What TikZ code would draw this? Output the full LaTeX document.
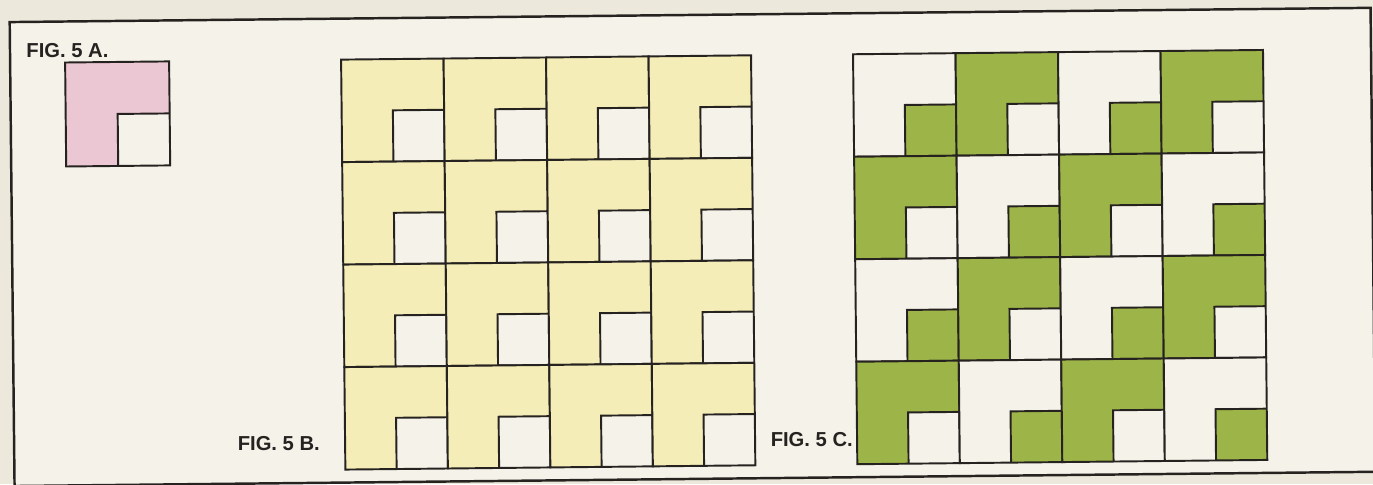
\documentclass[tikz,border=0pt]{standalone}
\usepackage{fontspec}
\setmainfont{Liberation Sans}
\usepackage{tikz}
\usetikzlibrary{positioning}
\definecolor{ink}{RGB}{38,34,32}
\definecolor{margin}{RGB}{236,233,220}
\definecolor{paper}{RGB}{244,242,233}
\definecolor{tileP}{RGB}{235,198,211}
\definecolor{tileY}{RGB}{244,237,184}
\definecolor{tileG}{RGB}{157,181,72}

\begin{document}
\begin{tikzpicture}[
		x=0.02cm, y=-0.02cm,
		line/.style={draw=ink, line width=1.1pt, line join=miter},
		frame/.style={draw=ink, line width=1.4pt},
		lbl/.style={font=\fontsize{11.5}{13}\selectfont\bfseries, text=ink, inner sep=0pt}
	]
		\useasboundingbox (0,0) rectangle (1373,484);
		\fill[margin] (0,0) rectangle (1373,484);
		\begin{scope}[rotate around={0.6:(686,242)}]
		\filldraw[frame, fill=paper] (12,15) rectangle (1373,479);
		% fig. 5 a: the single tile
		\fill[tileP] (67,56) rectangle ++(104,104);
		\fill[paper] (119,108) rectangle ++(52,52);
		\draw[line] (67,56) rectangle ++(104,104);
		\draw[line] (119,160) |- (171,108);
		\node[lbl, anchor=base west] (labA) at (28,51) {FIG. 5 A.};
		% fig. 5 b: all tiles the same
		\foreach \r in {0,...,3}{
			\foreach \c in {0,...,3}{
				\pgfmathsetmacro{\xa}{343+102.5*\c}
				\pgfmathsetmacro{\ya}{56+102.5*\r}
				\fill[tileY] (\xa,\ya) rectangle ++(102.5,102.5);
				\fill[paper] (\xa+51.25,\ya+51.25) rectangle ++(51.25,51.25);
				\draw[line] (\xa,\ya) rectangle ++(102.5,102.5);
				\draw[line] (\xa+51.25,\ya+102.5) |- (\xa+102.5,\ya+51.25);
			}
		}
		\node[lbl, anchor=east] (labB) at (318,440) {FIG. 5 B.};
		% fig. 5 c: colours swap from tile to tile
		\foreach \r in {0,...,3}{
			\foreach \c in {0,...,3}{
				\pgfmathsetmacro{\xa}{855+102.5*\c}
				\pgfmathsetmacro{\ya}{56+102.5*\r}
				\ifodd\numexpr\r+\c\relax \def\lcol{tileG}\def\ncol{paper}\else \def\lcol{paper}\def\ncol{tileG}\fi
				\fill[\lcol] (\xa,\ya) rectangle ++(102.5,102.5);
				\fill[\ncol] (\xa+51.25,\ya+51.25) rectangle ++(51.25,51.25);
				\draw[line] (\xa,\ya) rectangle ++(102.5,102.5);
				\draw[line] (\xa+51.25,\ya+102.5) |- (\xa+102.5,\ya+51.25);
			}
		}
		\node[lbl, anchor=east] (labC) at (851,441) {FIG. 5 C.};
		\end{scope}
	\end{tikzpicture}
\end{document}
